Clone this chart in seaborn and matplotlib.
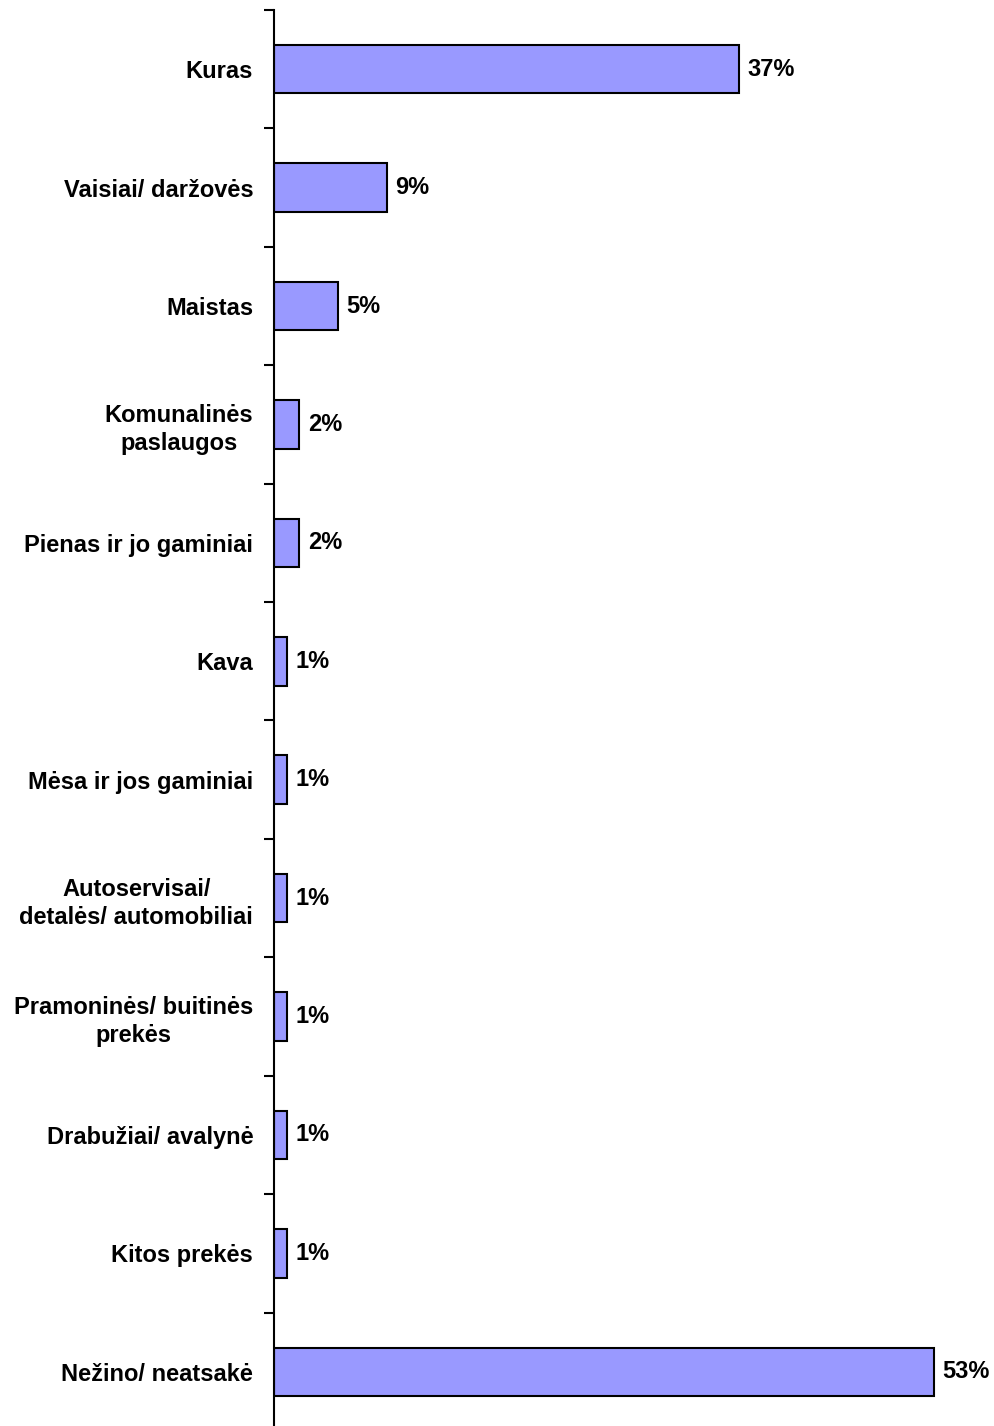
import numpy as np
import pandas as pd
import matplotlib
matplotlib.use("Agg")
import matplotlib.pyplot as plt
import seaborn as sns

categories = [
    "Kuras",
    "Vaisiai/ daržovės",
    "Maistas",
    "Komunalinės\npaslaugos",
    "Pienas ir jo gaminiai",
    "Kava",
    "Mėsa ir jos gaminiai",
    "Autoservisai/\ndetalės/ automobiliai",
    "Pramoninės/ buitinės\nprekės",
    "Drabužiai/ avalynė",
    "Kitos prekės",
    "Nežino/ neatsakė",
]
values = [37.2, 9.0, 5.1, 2.0, 2.0, 1.0, 1.0, 1.0, 1.0, 1.0, 1.0, 52.8]
labels = ["37%", "9%", "5%", "2%", "2%", "1%", "1%", "1%", "1%", "1%", "1%", "53%"]

sns.set_theme(style="white")
plt.rcParams['font.family'] = ['Liberation Sans', 'DejaVu Sans']
plt.rcParams['font.weight'] = 'bold'
plt.rcParams['font.size'] = 17
plt.rcParams['text.color'] = 'black'
plt.rcParams['ytick.color'] = 'black'

df = pd.DataFrame({"category": categories, "value": values})

fig = plt.figure(figsize=(9.95, 14.26), dpi=100)
ax = fig.add_axes([0.2754, -0.0035, 0.716, 0.9965])

sns.barplot(data=df, x="value", y="category", ax=ax, orient="h",
            color="#9999FF", saturation=1, width=0.41,
            edgecolor="black", linewidth=1.5)

for i, (v, lab) in enumerate(zip(values, labels)):
    ax.text(v + 0.7, i, lab, va="center", ha="left", fontsize=17,
            fontweight="bold", color="black")

ax.set_xlim(0, 57)
ax.set_ylim(11.5, -0.5)
ax.set_xlabel("")
ax.set_ylabel("")
ax.set_xticks([])

for s in ["top", "right", "bottom"]:
    ax.spines[s].set_visible(False)
ax.spines["left"].set_linewidth(1.5)
ax.spines["left"].set_color("black")

ax.set_yticks(np.arange(len(categories)))
ax.set_yticklabels(categories, fontweight="bold", fontsize=17, ha="right",
                   multialignment="center", linespacing=1.3, color="black")
ax.tick_params(axis="y", which="major", length=0, pad=15)
ax.set_yticks(np.arange(-0.5, len(categories), 1.0), minor=True)
ax.tick_params(axis="y", which="minor", length=7, width=1.5, color="black", left=True)

fig.savefig("out.png", dpi=100)
